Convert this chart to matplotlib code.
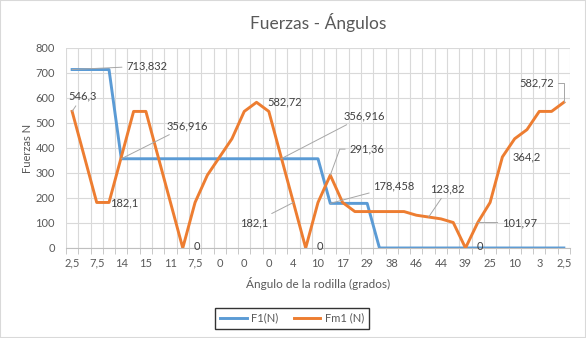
import matplotlib.pyplot as plt
from matplotlib.patches import Rectangle
from matplotlib.ticker import MultipleLocator

plt.rcParams['font.family'] = ['Lato', 'DejaVu Sans']

# visible angle labels (every second category of the 41 readings)
angle_labels = ["2,5", "7,5", "14", "15", "11", "7,5", "0", "0", "0", "4", "10",
                "17", "29", "38", "46", "44", "39", "25", "10", "3", "2,5"]

f1 = [713.832] * 4 + [356.916] * 17 + [178.458] * 4 + [0] * 16

fm1 = [546.3, 364.2, 182.1, 182.1, 364.2, 546.3, 546.3, 364.2, 182.1, 0,
       182.1, 291.36, 364.2, 437.04, 546.3, 582.72, 546.3, 364.2, 182.1, 0,
       182.1, 291.36, 182.1, 145.68, 145.68, 145.68, 145.68, 145.68, 131.11, 123.82,
       116.54, 101.97, 0, 101.97, 182.1, 364.2, 437.04, 473.46, 546.3, 546.3,
       582.72]

BLUE = "#5B9BD5"
ORANGE = "#ED7D31"
TXT = "#595959"

fig = plt.figure(figsize=(5.86, 3.38), dpi=100)
fig.patches.append(Rectangle((0, 0), 1, 1, transform=fig.transFigure,
                             fill=False, edgecolor="#d9d9d9", lw=1.5))
ax = fig.add_axes([0.1126, 0.2663, 0.8601, 0.5917])

n = len(fm1)
x = range(n)
ax.plot(x, f1, color=BLUE, lw=2.1, label="F1(N)", solid_joinstyle="round")
ax.plot(x, fm1, color=ORANGE, lw=2.1, label="Fm1 (N)", solid_joinstyle="round")

ax.set_xlim(-0.5, n - 0.5)
ax.set_ylim(0, 800)
ax.yaxis.set_major_locator(MultipleLocator(100))
ax.set_xticks(range(0, n, 2))
ax.set_xticklabels(angle_labels)
ax.set_xticks([i + 0.5 for i in range(-1, n)], minor=True)

ax.grid(axis="y", color="#d9d9d9", lw=0.8)
ax.grid(axis="x", which="minor", color="#d9d9d9", lw=0.8)
ax.set_axisbelow(True)
for side in ("top", "right", "left"):
    ax.spines[side].set_visible(False)
ax.spines["bottom"].set_color("#bfbfbf")
ax.tick_params(axis="y", length=0, pad=8, labelsize=8, colors=TXT)
ax.tick_params(axis="x", which="major", length=0, pad=7, labelsize=8, colors=TXT)
ax.tick_params(axis="x", which="minor", length=4, color="#bfbfbf")

ax.set_title("Fuerzas - Ángulos", fontsize=12.5, color=TXT, pad=14)
ax.set_ylabel("Fuerzas N", fontsize=8, color=TXT, labelpad=2)
ax.set_xlabel("Ángulo de la rodilla (grados)", fontsize=8.5, color=TXT, labelpad=6)


def lab(series, i, text, dx, dy, ha="left", leader=None, conn="arc3"):
    # offsets given in pixels (dpi 100)
    kw = dict(xy=(i, series[i]), xytext=(dx * 0.72, dy * 0.72),
              textcoords="offset points", ha=ha, va="center",
              fontsize=8, color="#404040")
    if leader:
        kw["arrowprops"] = dict(arrowstyle="-", color="#a6a6a6", lw=0.7,
                                shrinkA=1, shrinkB=0, connectionstyle=conn)
    ax.annotate(text, **kw)


lab(f1, 0, "713,832", 54, 3.5, leader=True)
lab(fm1, 0, "546,3", 10, 15, ha="center", leader=True)
lab(f1, 4, "356,916", 45, 33, leader=True)
lab(fm1, 3, "182,1", 1, -0.5)
lab(fm1, 9, "0", 14, 1, ha="center")
lab(fm1, 15, "582,72", 11, 0)
lab(f1, 17, "356,916", 62, 43, leader=True)
lab(fm1, 18, "182,1", -25, -20, ha="right", leader=True)
lab(fm1, 19, "0", 14, 1, ha="center")
lab(fm1, 21, "291,36", 19, 26, leader=True, conn="angle,angleA=0,angleB=70,rad=0")
lab(f1, 21, "178,458", 43, 17, leader=True)
lab(fm1, 29, "123,82", 19, 28, ha="center", leader=True)
lab(fm1, 33, "101,97", 24, 0, leader=True)
lab(fm1, 32, "0", 14, 1, ha="center")
lab(fm1, 35, "364,2", 10, 0)
lab(fm1, 40, "582,72", -10, 19, ha="right", leader=True,
    conn="angle,angleA=0,angleB=90,rad=0")

leg = fig.legend(loc="center", bbox_to_anchor=(292 / 586, 1 - 318 / 338), ncol=2,
                 fontsize=8, frameon=True, fancybox=False, handlelength=2.4,
                 handletextpad=0.4, columnspacing=1.4, borderpad=0.45,
                 labelcolor=TXT)
leg.get_frame().set_edgecolor("black")
leg.get_frame().set_linewidth(1)

fig.savefig("out.png", dpi=100)
